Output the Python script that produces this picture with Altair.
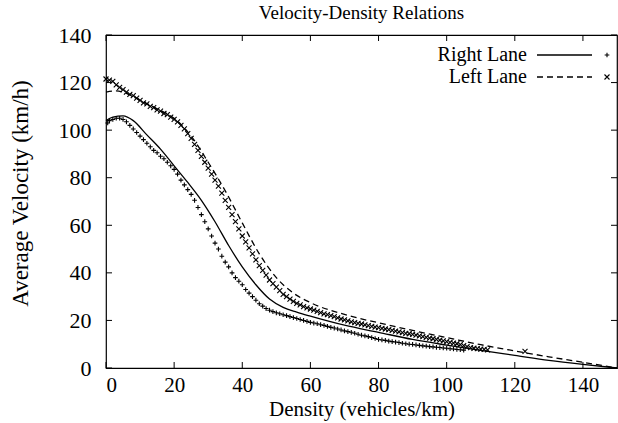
import altair as alt
import pandas as pd

FONT = "Liberation Serif"

# ---- data ----
# Right lane measurements (+)
right_k = [0.5, 1, 2, 3, 4, 5, 6, 7, 8, 9, 10, 11, 12, 13, 14, 15, 16, 17, 18, 19,
           20, 21, 22, 23, 24, 25, 26, 27, 28, 29, 30, 31, 32, 33, 34, 35, 36, 37, 38, 39,
           40, 41, 42, 43, 44, 45, 46, 47, 48, 49, 50, 51, 52, 53, 54, 55, 56, 57, 58, 59,
           60, 61, 62, 63, 64, 65, 66, 67, 68, 69, 70, 71, 72, 73, 74, 75, 76, 77, 78, 79,
           80, 81, 82, 83, 84, 85, 86, 87, 88, 89, 90, 91, 92, 93, 94, 95, 96, 97, 98, 99,
           100, 101, 102, 103, 104, 105]
right_v = [103, 104, 104.5, 105, 105, 104.5, 103.5, 102, 100.5, 99, 97.5, 96, 94.5, 93, 91.5, 90.5, 89, 88, 86.5, 85,
           83.5, 81.5, 79, 77, 75, 73, 70.5, 67.5, 64.5, 61.5, 58.5, 55.5, 52.5, 50, 47, 44.5, 42.5, 40, 38, 36.5,
           35, 33, 31.5, 30, 28.5, 27, 26, 25, 24.3, 23.7, 23.2, 22.8, 22.4, 22, 21.6, 21.2, 20.8, 20.4, 20, 19.6,
           19.2, 18.9, 18.6, 18.2, 17.9, 17.5, 17.1, 16.8, 16.4, 16, 15.6, 15.3, 15, 14.6, 14.2, 13.8, 13.5, 13.2, 12.8, 12.4,
           12, 11.8, 11.6, 11.3, 11.1, 10.9, 10.7, 10.4, 10.2, 10, 9.9, 9.7, 9.5, 9.3, 9.2, 9, 8.9, 8.7, 8.6, 8.4,
           8.3, 8.1, 8, 7.8, 7.7, 7.5]

# Left lane measurements (x)
left_k = [0, 1, 2, 3, 4, 5, 6, 7, 8, 9, 10, 11, 12, 13, 14, 15, 16, 17, 18, 19,
          20, 21, 22, 23, 24, 25, 26, 27, 28, 29, 30, 31, 32, 33, 34, 35, 36, 37, 38, 39,
          40, 41, 42, 43, 44, 45, 46, 47, 48, 49, 50, 51, 52, 53, 54, 55, 56, 57, 58, 59,
          60, 61, 62, 63, 64, 65, 66, 67, 68, 69, 70, 71, 72, 73, 74, 75, 76, 77, 78, 79,
          80, 81, 82, 83, 84, 85, 86, 87, 88, 89, 90, 91, 92, 93, 94, 95, 96, 97, 98, 99,
          100, 101, 102, 103, 104, 105, 106, 107, 108, 109, 110, 111, 112, 123]
left_v = [121.5, 121, 120.5, 119, 118, 117, 116, 115, 114.5, 113.5, 112.5, 111.5, 111, 110, 109.5, 108.5, 108, 107, 106.5, 105.5,
          104.5, 103.5, 102, 100.5, 98.5, 96.5, 94, 91.5, 89, 86.5, 84, 81.5, 79, 76.5, 73.5, 70.5, 67.5, 64.5, 61.5, 58.5,
          55.5, 53, 50.5, 48, 45.5, 43, 41, 39, 37, 35.5, 34, 32.5, 31, 30, 29, 28, 27.2, 26.5, 25.8, 25.3,
          24.8, 24.3, 23.8, 23.3, 22.8, 22.4, 22, 21.6, 21.1, 20.6, 20.2, 19.8, 19.4, 19.1, 18.8, 18.5, 18.1, 17.8, 17.5, 17.2,
          17, 16.7, 16.4, 16.1, 15.8, 15.5, 15.2, 14.9, 14.6, 14.4, 14.1, 13.8, 13.5, 13.2, 12.9, 12.6, 12.3, 12, 11.7, 11.4,
          11.1, 10.8, 10.5, 10.2, 9.8, 9.4, 9, 8.6, 8.3, 8.1, 7.9, 7.8, 7.6, 7]

# Model curves
right_line_k = [0, 2, 5, 8, 12, 16, 20, 24, 28, 32, 36, 40, 44, 48, 52, 56, 60, 70, 80, 90, 100, 110, 120, 130, 140, 150]
right_line_v = [104, 105.5, 106, 104, 98, 92, 85, 78, 70.5, 61.5, 51.5, 42.5, 35, 29, 25.5, 23.5, 21.8, 18, 15, 12, 9.6, 7.4, 5.3, 3.2, 1.5, 0]
left_line_k = [0, 3, 6, 10, 15, 20, 25, 30, 35, 40, 45, 50, 55, 60, 70, 80, 90, 100, 110, 120, 130, 140, 150]
left_line_v = [116, 116.5, 115.5, 112.5, 109, 105, 97.5, 86.5, 74.5, 61, 48, 38, 31.5, 27.5, 22.5, 19, 15.8, 12.8, 9.8, 7.2, 4.7, 2.4, 0]

x_ticks = [0, 20, 40, 60, 80, 100, 120, 140]
y_ticks = [0, 20, 40, 60, 80, 100, 120, 140]

W, H = 511, 333
xs = alt.Scale(domain=[0, 150], nice=False, zero=False)
ys = alt.Scale(domain=[0, 140], nice=False, zero=False)

PLUS = "M-1,0L1,0M0,-1L0,1"
CROSS = "M-1,-1L1,1M-1,1L1,-1"

right_pts = pd.DataFrame({"k": right_k, "v": right_v})
left_pts = pd.DataFrame({"k": left_k, "v": left_v})
right_line = pd.DataFrame({"k": right_line_k, "v": right_line_v})
left_line = pd.DataFrame({"k": left_line_k, "v": left_line_v})
xt = pd.DataFrame({"k": x_ticks})
yt = pd.DataFrame({"v": y_ticks})
one = pd.DataFrame({"a": [0]})

x_axis = alt.Axis(values=x_ticks, ticks=False, domain=False, grid=False,
                  labelFont=FONT, labelFontSize=21, labelPadding=23, labelBaseline="alphabetic",
                  labelColor="black",
                  title="Density (vehicles/km)", titleFont=FONT, titleFontSize=21,
                  titleFontWeight="normal", titleColor="black",
                  titleBaseline="alphabetic", titleY=47)
y_axis = alt.Axis(values=y_ticks, ticks=False, domain=False, grid=False,
                  labelFont=FONT, labelFontSize=22, labelPadding=15, labelColor="black",
                  title="Average Velocity (km/h)", titleFont=FONT, titleFontSize=23,
                  titleFontWeight="normal", titleColor="black", titleY=158, titleX=-74)

X = alt.X("k:Q", scale=xs, axis=x_axis)
Y = alt.Y("v:Q", scale=ys, axis=y_axis)

rline = alt.Chart(right_line).mark_line(color="black", strokeWidth=1.3, interpolate="monotone").encode(x=X, y=Y)
lline = alt.Chart(left_line).mark_line(color="black", strokeWidth=1.3, strokeDash=[6, 4],
                                       interpolate="monotone").encode(x=X, y=Y)
rpts = alt.Chart(right_pts).mark_point(shape=PLUS, filled=False, stroke="black", strokeWidth=1.1,
                                       size=22, opacity=1).encode(x=X, y=Y)
lpts = alt.Chart(left_pts).mark_point(shape=CROSS, filled=False, stroke="black", strokeWidth=1.1,
                                      size=25, opacity=1).encode(x=X, y=Y)

# inward tick marks on all four sides
tick_len = 6
bt = alt.Chart(xt).mark_rule(color="black", strokeWidth=1).encode(x=X, y=alt.value(H), y2=alt.value(H - tick_len))
tt = alt.Chart(xt).mark_rule(color="black", strokeWidth=1).encode(x=X, y=alt.value(0), y2=alt.value(tick_len))
lt = alt.Chart(yt).mark_rule(color="black", strokeWidth=1).encode(y=Y, x=alt.value(0), x2=alt.value(tick_len))
rt = alt.Chart(yt).mark_rule(color="black", strokeWidth=1).encode(y=Y, x=alt.value(W), x2=alt.value(W - tick_len))

# legend (top right, inside the frame)
LY1, LY2 = 20, 42
leg_text_r = alt.Chart(one).mark_text(align="right", baseline="middle", font=FONT, fontSize=20, color="black").encode(
    x=alt.value(421), y=alt.value(LY1), text=alt.value("Right Lane"))
leg_text_l = alt.Chart(one).mark_text(align="right", baseline="middle", font=FONT, fontSize=20, color="black").encode(
    x=alt.value(421), y=alt.value(LY2), text=alt.value("Left Lane"))
leg_line_r = alt.Chart(one).mark_rule(color="black", strokeWidth=1.3).encode(
    x=alt.value(431), x2=alt.value(486), y=alt.value(LY1))
leg_line_l = alt.Chart(one).mark_rule(color="black", strokeWidth=1.3, strokeDash=[6, 4]).encode(
    x=alt.value(431), x2=alt.value(486), y=alt.value(LY2))
leg_pt_r = alt.Chart(one).mark_point(shape=PLUS, filled=False, stroke="black", strokeWidth=1.1, size=22, opacity=1).encode(
    x=alt.value(501), y=alt.value(LY1))
leg_pt_l = alt.Chart(one).mark_point(shape=CROSS, filled=False, stroke="black", strokeWidth=1.1, size=25, opacity=1).encode(
    x=alt.value(501), y=alt.value(LY2))

chart = alt.layer(
    rline, lline, rpts, lpts, bt, tt, lt, rt,
    leg_text_r, leg_text_l, leg_line_r, leg_line_l, leg_pt_r, leg_pt_l,
).properties(
    width=W, height=H,
    title=alt.TitleParams("Velocity-Density Relations", font=FONT, fontSize=19, fontWeight="normal",
                          color="black", anchor="middle", offset=1),
    autosize=alt.AutoSizeParams(type="none"),
    padding={"left": 106, "top": 35, "right": 1, "bottom": 55},
    background="white",
).configure_view(stroke="black", strokeWidth=1.2)

chart.save("out.html", embed_options={"renderer": "svg", "actions": False})
